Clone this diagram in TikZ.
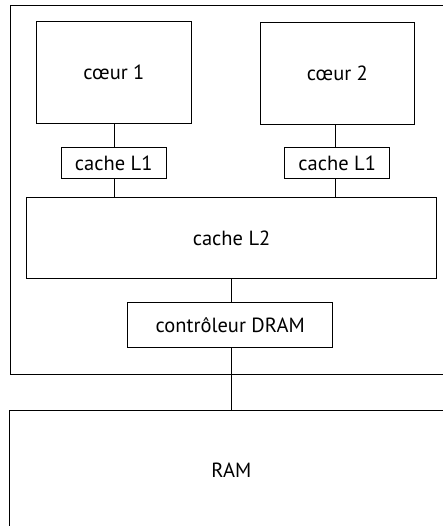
\documentclass[tikz,border=0pt]{standalone}
\usepackage{fontspec}
\setmainfont{PT Sans}
\tikzset{box/.style={draw=black,line width=0.8pt,inner sep=0pt,font=\fontsize{20.5pt}{24pt}\selectfont},wire/.style={draw=black,line width=0.8pt}}
\newcommand{\bx}[6]{\node[box,anchor=north west,minimum width=#4*1pt,minimum height=#5*1pt] (#1) at (#2pt,-#3pt) {#6};}
\begin{document}
\begin{tikzpicture}[x=1pt,y=1pt]
\useasboundingbox (0,0) rectangle (443,-526);
\path[fill=white] (0,0) rectangle (443,-526);
\draw[wire] (443,-5.7) -- (10.4,-5.7) -- (10.4,-374) -- (443,-374);
\bx{c1}{36}{20.7}{155}{102.3}{cœur 1}
\bx{c2}{259.7}{22}{154.6}{102.3}{cœur 2}
\bx{l1a}{60.7}{147.3}{105.3}{31}{cache L1}
\bx{l1b}{284.3}{147.3}{105}{31}{cache L1}
\bx{l2}{26}{197.3}{410.3}{80.4}{cache L2}
\bx{ctl}{127.3}{302}{205}{45.3}{contrôleur DRAM}
\draw[wire] (443,-410.7) -- (9,-410.7) -- (9,-526);
\node[font=\fontsize{20.5pt}{24pt}\selectfont] (ram) at (231.3,-470) {RAM};
\coordinate (ramtop) at (231.3,-410.7);
\coordinate (wa) at (114,0);
\coordinate (wb) at (335.7,0);
\draw[wire] (wa |- c1.south) -- (wa |- l1a.north);
\draw[wire] (wa |- l1a.south) -- (wa |- l2.north);
\draw[wire] (wb |- c2.south) -- (wb |- l1b.north);
\draw[wire] (wb |- l1b.south) -- (wb |- l2.north);
\draw[wire] (ramtop |- l2.south) -- (ramtop |- ctl.north);
\draw[wire] (ramtop |- ctl.south) -- (ramtop);
\end{tikzpicture}
\end{document}
